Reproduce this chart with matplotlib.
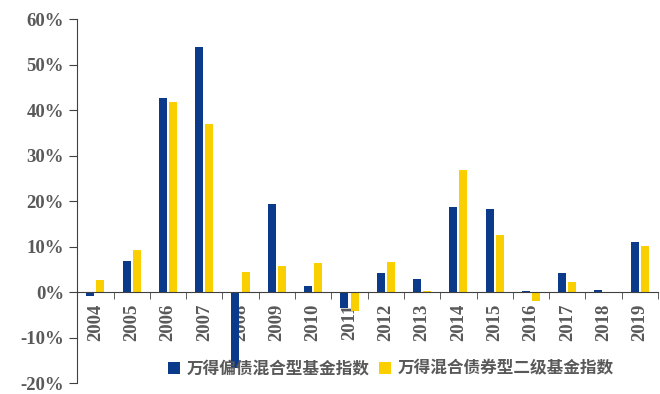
import matplotlib
matplotlib.use("Agg")
import matplotlib.pyplot as plt
import numpy as np
from matplotlib.ticker import FuncFormatter

# 数据（年度收益率，%）
years = ["2004", "2005", "2006", "2007", "2008", "2009", "2010", "2011",
         "2012", "2013", "2014", "2015", "2016", "2017", "2018", "2019"]
pianzhai = [-0.8, 6.9, 42.7, 54.0, -16.6, 19.5, 1.4, -3.5,
            4.2, 3.0, 18.8, 18.4, 0.3, 4.2, 0.5, 11.0]
erji = [2.8, 9.4, 41.8, 36.9, 4.5, 5.8, 6.5, -4.0,
        6.6, 0.3, 26.9, 12.5, -2.0, 2.3, -0.2, 10.1]
names = ["万得偏债混合型基金指数", "万得混合债券型二级基金指数"]

blue = "#0B3A8A"
yellow = "#F9CF00"
grey = "#595959"

fig = plt.figure(figsize=(6.6, 3.94), dpi=100)
ax = fig.add_axes([0.117, 0.027, 0.88, 0.924])

x = np.arange(len(years))
w = 0.22
ax.bar(x - 0.14, pianzhai, w, color=blue, label=names[0], zorder=2)
ax.bar(x + 0.14, erji, w, color=yellow, label=names[1], zorder=2)

ax.set_xlim(-0.5, len(years) - 0.5)
ax.set_ylim(-20, 60)
ax.set_yticks(np.arange(-20, 61, 10))
ax.yaxis.set_major_formatter(FuncFormatter(lambda v, p: f"{v:.0f}%"))

for s in ["top", "right"]:
    ax.spines[s].set_visible(False)
ax.spines["bottom"].set_position(("data", 0))
ax.spines["bottom"].set_color("#404040")
ax.spines["left"].set_color("#404040")
ax.spines["bottom"].set_zorder(3)

# 分类标签在中间，刻度线在分类边界
ax.set_xticks(x)
ax.set_xticklabels(years, rotation=90, family="Liberation Serif",
                   fontweight="bold", fontsize=13.5, color=grey)
ax.set_xticks(np.arange(-0.5, len(years), 1), minor=True)
ax.tick_params(axis="x", which="major", length=0, pad=8)
ax.tick_params(axis="x", which="minor", length=5, color="#404040")
ax.tick_params(axis="y", length=6, color="#404040")
for t in ax.get_yticklabels():
    t.set_family("Liberation Serif")
    t.set_fontweight("bold")
    t.set_fontsize(13.5)
    t.set_color(grey)

leg = ax.legend(loc="center", bbox_to_anchor=(0.54, 0.04), ncol=2, frameon=False,
                prop={"family": ["Noto Sans CJK SC"], "weight": "bold", "size": 12},
                handlelength=0.7, handleheight=0.7, handletextpad=0.4, columnspacing=0.6)
for t in leg.get_texts():
    t.set_color(grey)

fig.savefig("out.png", dpi=100)
